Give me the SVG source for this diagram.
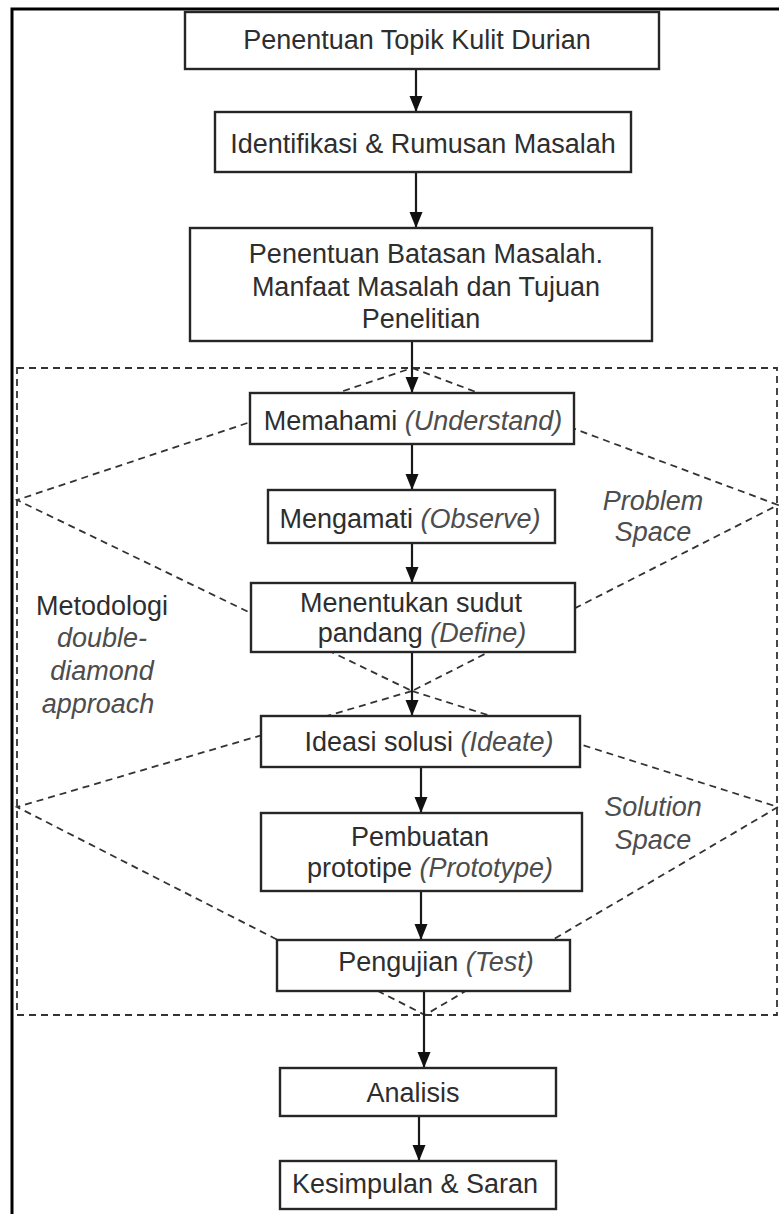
<svg xmlns="http://www.w3.org/2000/svg" width="779" height="1214" viewBox="0 0 779 1214">
<defs>
<marker id="arr" markerUnits="userSpaceOnUse" markerWidth="17" markerHeight="14" refX="16" refY="6.5" orient="auto">
<path d="M0,0 L16,6.5 L0,13 Z" fill="#111"/>
</marker>
<style>
.box{fill:#fff;stroke:#262626;stroke-width:2.4}
.t{font-family:"Liberation Sans",Arial,sans-serif;font-size:27px;fill:#2e2e2e;text-anchor:middle}
.i{font-style:italic;fill:#4d4d4d}
.dash{fill:none;stroke:#333;stroke-width:1.8;stroke-dasharray:7 5}
.con{fill:none;stroke:#1a1a1a;stroke-width:2.2}
</style>
</defs>
<rect width="779" height="1214" fill="#fff"/>
<rect x="12" y="9" width="790" height="1230" fill="none" stroke="#000" stroke-width="3"/>
<g id="frame-dashed">
<rect class="dash" x="17" y="368" width="760" height="647"/>
<polygon class="dash" points="412,368 778,505 412,691 17,500"/>
<polygon class="dash" points="412,691 778,807 425,1015 17,807"/>
</g>
<g id="connectors">
<line class="con" x1="416" y1="69" x2="416" y2="112" marker-end="url(#arr)"/>
<line class="con" x1="416" y1="172" x2="416" y2="228" marker-end="url(#arr)"/>
<line class="con" x1="412" y1="341" x2="412" y2="393" marker-end="url(#arr)"/>
<line class="con" x1="412" y1="444" x2="412" y2="490" marker-end="url(#arr)"/>
<line class="con" x1="412" y1="543" x2="412" y2="583" marker-end="url(#arr)" stroke-width="2.8"/>
<line class="con" x1="412" y1="652" x2="412" y2="716" marker-end="url(#arr)"/>
<line class="con" x1="421" y1="767" x2="421" y2="813" marker-end="url(#arr)"/>
<line class="con" x1="421" y1="891" x2="421" y2="940" marker-end="url(#arr)"/>
<line class="con" x1="424" y1="991" x2="424" y2="1068" marker-end="url(#arr)"/>
<line class="con" x1="419" y1="1116" x2="419" y2="1161" marker-end="url(#arr)"/>
</g>
<g id="n1"><rect class="box" x="185" y="12" width="474" height="57"/><text class="t" x="417" y="49">Penentuan Topik Kulit Durian</text></g>
<g id="n2"><rect class="box" x="215" y="112" width="416" height="60"/><text class="t" x="423" y="153">Identifikasi &amp; Rumusan Masalah</text></g>
<g id="n3"><rect class="box" x="190" y="228" width="462" height="113"/>
<text class="t" x="426" y="263">Penentuan Batasan Masalah.</text>
<text class="t" x="426" y="296">Manfaat Masalah dan Tujuan</text>
<text class="t" x="421" y="328">Penelitian</text></g>
<g id="n4"><rect class="box" x="250" y="393" width="324" height="51"/><text class="t" x="413" y="430">Memahami <tspan class="i">(Understand)</tspan></text></g>
<g id="n5"><rect class="box" x="268" y="490" width="287" height="53"/><text class="t" x="410" y="528">Mengamati <tspan class="i">(Observe)</tspan></text></g>
<g id="n6"><rect class="box" x="251" y="583" width="324" height="69"/>
<text class="t" x="411" y="612">Menentukan sudut</text>
<text class="t" x="422" y="642">pandang <tspan class="i">(Define)</tspan></text></g>
<g id="n7"><rect class="box" x="261" y="716" width="319" height="51"/><text class="t" x="429" y="751">Ideasi solusi <tspan class="i">(Ideate)</tspan></text></g>
<g id="n8"><rect class="box" x="261" y="813" width="321" height="78"/>
<text class="t" x="420" y="846">Pembuatan</text>
<text class="t" x="430" y="877">prototipe <tspan class="i">(Prototype)</tspan></text></g>
<g id="n9"><rect class="box" x="277" y="940" width="293" height="51"/><text class="t" x="436" y="971">Pengujian <tspan class="i">(Test)</tspan></text></g>
<g id="n10"><rect class="box" x="280" y="1068" width="276" height="48"/><text class="t" x="413" y="1102">Analisis</text></g>
<g id="n11"><rect class="box" x="280" y="1161" width="276" height="48"/><text class="t" x="415" y="1193">Kesimpulan &amp; Saran</text></g>
<g id="labels">
<text class="t i" x="653" y="510">Problem</text>
<text class="t i" x="653" y="541">Space</text>
<text class="t i" x="653" y="816">Solution</text>
<text class="t i" x="653" y="849">Space</text>
<text class="t" x="102" y="615">Metodologi</text>
<text class="t i" x="102" y="647">double-</text>
<text class="t i" x="102" y="680">diamond</text>
<text class="t i" x="98" y="713">approach</text>
</g>
</svg>
